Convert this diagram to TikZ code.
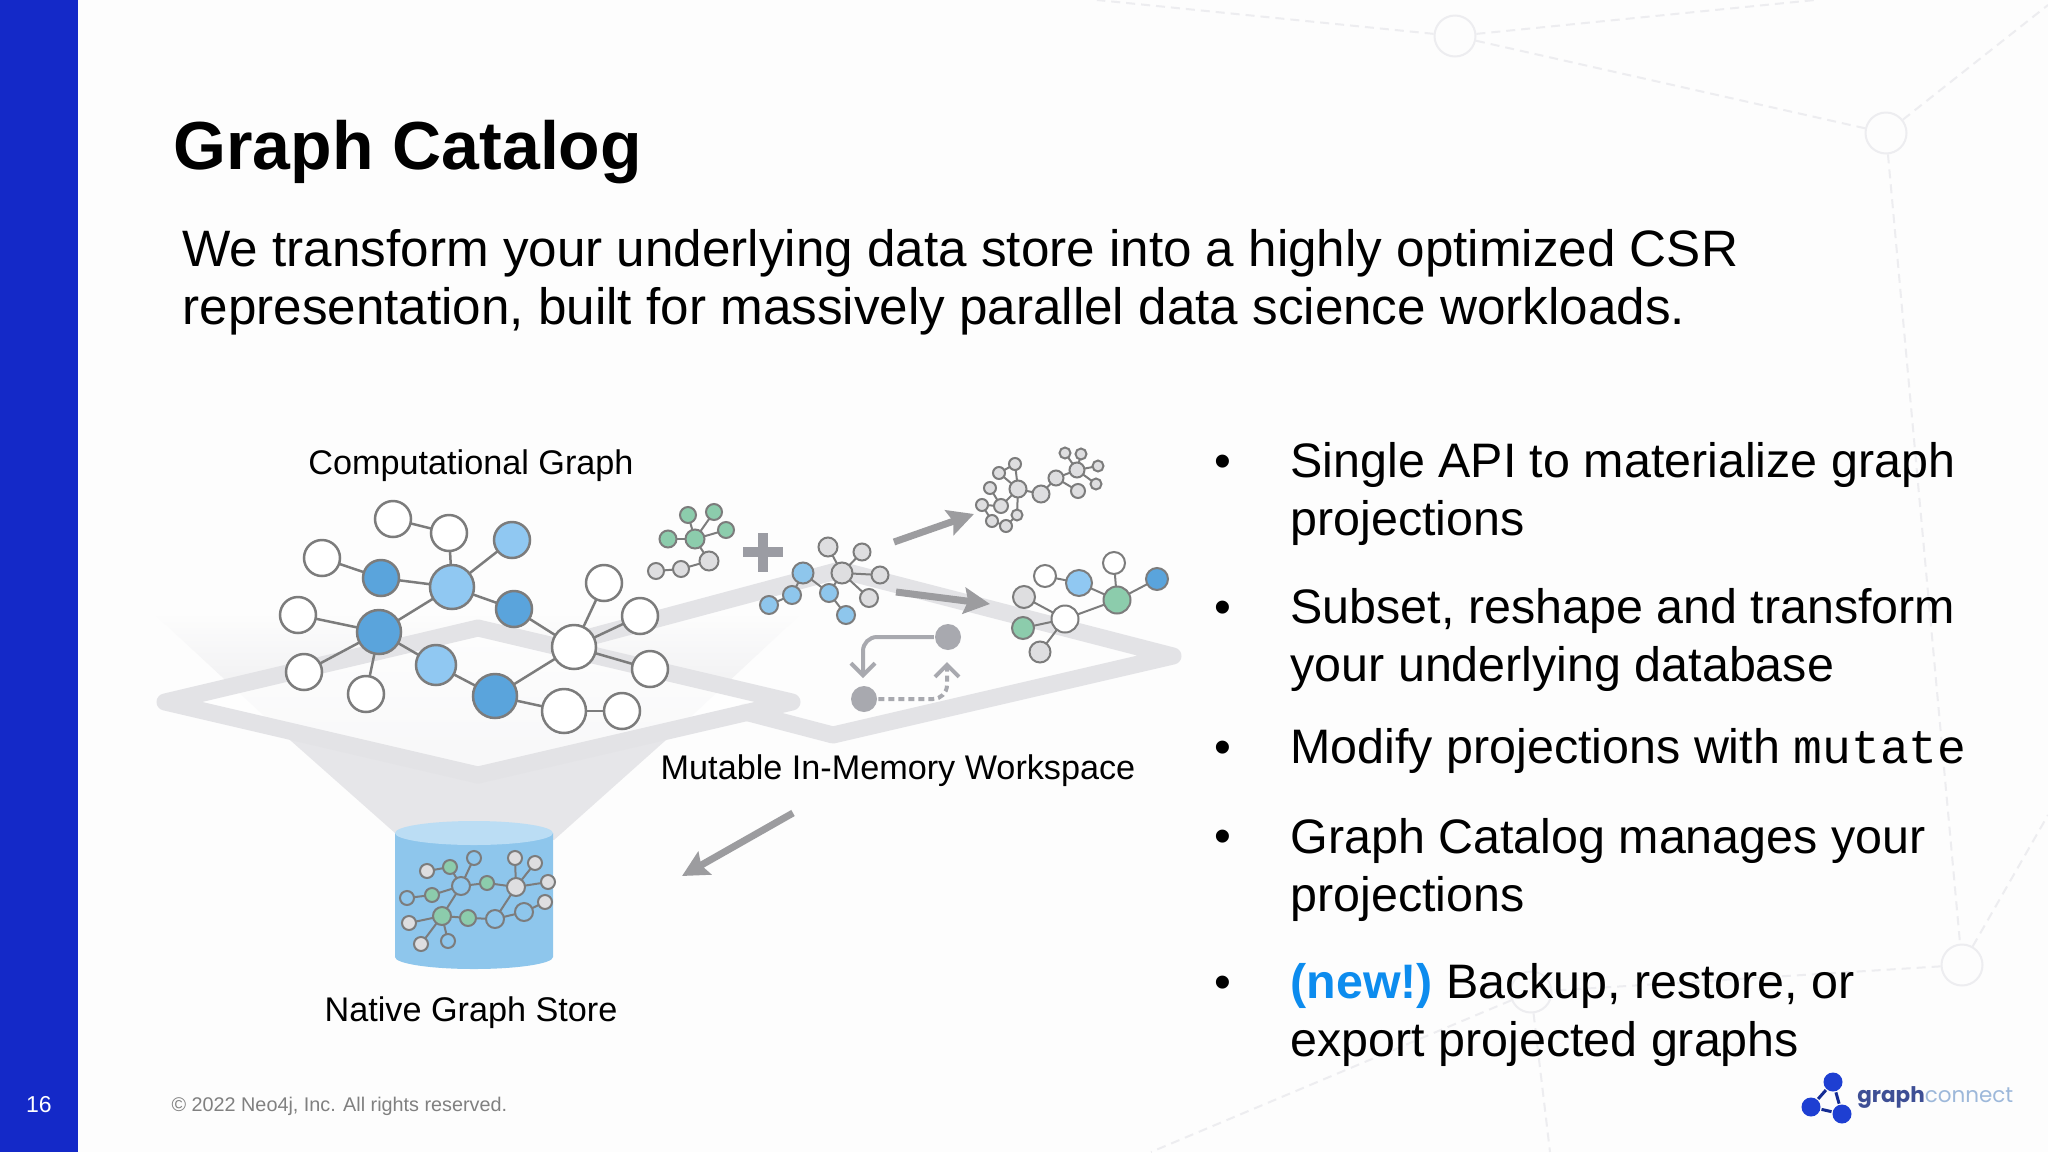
\documentclass[tikz,border=0pt]{standalone}
\usepackage{fontspec}
\setmainfont{Liberation Sans}
\newfontfamily\monofam{Liberation Mono}
\newfontfamily\logofam{Poppins}
\usetikzlibrary{arrows.meta, shapes.geometric}

\definecolor{pagewhite}{HTML}{FDFDFD}
\definecolor{barblue}{HTML}{1429C8}
\definecolor{edgegray}{HTML}{7C7C7C}
\definecolor{darkblue}{HTML}{5AA4DC}
\definecolor{lightblue}{HTML}{90C8F2}
\definecolor{miniblue}{HTML}{8EC6EC}
\definecolor{minigreen}{HTML}{8CCCAC}
\definecolor{minigray}{HTML}{DEDEE0}
\definecolor{bandgray}{HTML}{E3E3E6}
\definecolor{arrowgray}{HTML}{9C9C9F}
\definecolor{plusgray}{HTML}{9B9CA3}
\definecolor{loopgray}{HTML}{A8A9AF}
\definecolor{backline}{HTML}{EDEDF0}
\definecolor{newblue}{HTML}{0D8CEE}
\definecolor{logoblue}{HTML}{1E3FD2}

\tikzset{
    every picture/.style={line width=2.5pt},
    gnode/.style={circle, draw=edgegray, inner sep=0pt, outer sep=0pt, minimum size=#1},
    wnode/.style={gnode=#1, fill=white},
    dnode/.style={gnode=#1, fill=darkblue},
    lnode/.style={gnode=#1, fill=lightblue},
    mblue/.style={gnode=#1, fill=miniblue, line width=2pt},
    mgreen/.style={gnode=#1, fill=minigreen, line width=2pt},
    mgray/.style={gnode=#1, fill=minigray, line width=2pt},
    mwhite/.style={gnode=#1, fill=white, line width=2pt},
    glink/.style={draw=edgegray, line width=2.5pt},
    mlink/.style={draw=edgegray, line width=2pt},
    bnode/.style={circle, draw=backline, line width=2pt, inner sep=0pt, minimum size=41pt},
    blink/.style={draw=backline, line width=2pt, dash pattern=on 9pt off 6pt},
    band/.style={draw=bandgray, line width=17pt, line join=round, line cap=round},
    fatarrow/.style={draw=arrowgray, line width=#1, -{Stealth[length=26pt,width=26pt,inset=4pt]}},
    loopdot/.style={circle, fill=loopgray, inner sep=0pt, minimum size=26pt},
    looplink/.style={draw=loopgray, line width=4pt, rounded corners=14pt, -{Straight Barb[length=12pt,width=24pt]}},
    caption/.style={text=black, font=\fontsize{34.2}{40}\selectfont},
    bitem/.style={anchor=base west, align=left, font=\fontsize{48.4}{58}\selectfont},
    bmark/.style={anchor=base, font=\fontsize{48}{58}\selectfont},
}

\begin{document}
\begin{tikzpicture}[x=1pt, y=-1pt]
    \useasboundingbox (0,0) rectangle (2048,1152);
    \fill[pagewhite] (0,0) rectangle (2048,1152);

    % faint backdrop
    \node[bnode] (c1) at (1455,36) {};
    \node[bnode] (c2) at (1886,133) {};
    \node[bnode] (c3) at (1962,965) {};
    \node[bnode] (c4) at (1531,992) {};
    \coordinate (f1) at (1097,0);
    \coordinate (f2) at (1815,0);
    \coordinate (f3) at (2048,5);
    \coordinate (f4) at (2048,815);
    \coordinate (f5) at (1151,1152);
    \coordinate (f6) at (1550,1152);
    \draw[blink]
        (c1) edge (f1)
        (c1) edge (f2)
        (c1) edge (c2)
        (c2) edge (f3)
        (c2) edge (c3)
        (c3) edge (f4)
        (c3) edge (c4)
        (c4) edge (f5)
        (c4) edge (f6)
        ;

    \fill[barblue] (0,0) rectangle (78,1152);
    \node[text=white, font=\fontsize{23}{28}\selectfont] (page) at (39,1105) {16};
    \node[anchor=base west, text=gray, font=\fontsize{19.8}{25}\selectfont] (copy) at (167,1111) {© 2022 Neo4j, Inc. All rights reserved.};

    \node[anchor=base west, font=\bfseries\fontsize{68}{80}\selectfont] (title) at (169,169) {Graph Catalog};
    \node[bitem, font=\fontsize{51.2}{58}\selectfont] (lead) at (178,324) {We transform your underlying data store into a highly optimized CSR\\representation, built for massively parallel data science workloads.};

    % funnel and platforms
    \shade[top color=pagewhite, bottom color=bandgray!80!white]
        (152,612) -- (290,740) -- (666,740) -- (803,612) -- cycle;
    \fill[bandgray!90!white] (290,740) -- (395,833) -- (554,840) -- (666,740) -- cycle;
    \draw[band] (560,645) -- (840,570) -- (1173,656) -- (833,735) -- (745,712);
    \fill[white, opacity=0.75] (165,702) -- (478,628) -- (792,702) -- (478,775) -- cycle;
    \draw[band] (165,702) -- (478,628) -- (792,702) -- (478,775) -- cycle;

    % store
    \fill[miniblue] (395,833) -- (395,957) arc[start angle=180, end angle=360, x radius=79, y radius=-12] -- (553,833) -- cycle;
    \fill[miniblue!60!white] (474,833) ellipse[x radius=79, y radius=12];

    % computational graph
    \node[wnode=36pt] (n1) at (393,519) {};
    \node[wnode=36pt] (n2) at (449,533) {};
    \node[lnode=36pt] (n3) at (512,540) {};
    \node[wnode=36pt] (n4) at (322,558) {};
    \node[dnode=36pt] (n5) at (381,578) {};
    \node[lnode=44pt] (n6) at (452,587) {};
    \node[dnode=36pt] (n7) at (514,609) {};
    \node[wnode=36pt] (n8) at (604,583) {};
    \node[wnode=36pt] (n9) at (640,616) {};
    \node[wnode=36pt] (n10) at (298,615) {};
    \node[dnode=44pt] (n11) at (379,632) {};
    \node[wnode=44pt] (n12) at (574,647) {};
    \node[wnode=36pt] (n13) at (304,672) {};
    \node[wnode=36pt] (n14) at (650,669) {};
    \node[lnode=40pt] (n15) at (436,665) {};
    \node[wnode=36pt] (n16) at (366,694) {};
    \node[dnode=44pt] (n17) at (495,696) {};
    \node[wnode=44pt] (n18) at (564,711) {};
    \node[wnode=36pt] (n19) at (622,711) {};
    \draw[glink]
        (n1) edge (n2)
        (n2) edge (n6)
        (n3) edge (n6)
        (n4) edge (n5)
        (n5) edge (n6)
        (n6) edge (n7)
        (n6) edge (n11)
        (n7) edge (n12)
        (n8) edge (n12)
        (n9) edge (n12)
        (n14) edge (n12)
        (n12) edge (n17)
        (n10) edge (n11)
        (n13) edge (n11)
        (n16) edge (n11)
        (n11) edge (n15)
        (n15) edge (n17)
        (n17) edge (n18)
        (n18) edge (n19)
        ;

    % green and gray sketch
    \node[mgreen=16pt] (g1) at (688,515) {};
    \node[mgreen=16pt] (g2) at (714,512) {};
    \node[mgreen=17pt] (g3) at (668,539) {};
    \node[mgreen=19pt] (g4) at (695,539) {};
    \node[mgreen=16pt] (g5) at (726,530) {};
    \node[mgray=19pt] (a1) at (709,561) {};
    \node[mgray=16pt] (a2) at (681,569) {};
    \node[mgray=16pt] (a3) at (656,571) {};
    \draw[mlink]
        (g1) edge (g4)
        (g2) edge (g4)
        (g3) edge (g4)
        (g5) edge (g4)
        (g4) edge (a1)
        (a1) edge (a2)
        (a2) edge (a3)
        ;
    \fill[plusgray] (743,547) rectangle (783,557);
    \fill[plusgray] (758,533) rectangle (768,572);

    % blue and gray sketch
    \node[mblue=18pt] (b1) at (769,605) {};
    \node[mblue=18pt] (b2) at (792,595) {};
    \node[mblue=21pt] (b3) at (803,573) {};
    \node[mblue=18pt] (b4) at (829,593) {};
    \node[mblue=18pt] (b5) at (846,615) {};
    \node[mgray=19pt] (d1) at (828,547) {};
    \node[mgray=17pt] (d2) at (862,552) {};
    \node[mgray=21pt] (d3) at (842,573) {};
    \node[mgray=17pt] (d4) at (880,575) {};
    \node[mgray=18pt] (d5) at (869,598) {};
    \draw[mlink]
        (b1) edge (b2)
        (b2) edge (b3)
        (b3) edge (b4)
        (b4) edge (d3)
        (b5) edge (b4)
        (d1) edge (d3)
        (d2) edge (d3)
        (d4) edge (d3)
        (d5) edge (d3)
        ;

    % upper right sketch
    \node[mgray=17pt] (t1) at (1018,489) {};
    \node[mgray=12pt] (t2) at (1015,464) {};
    \node[mgray=12pt] (t3) at (999,473) {};
    \node[mgray=12pt] (t4) at (990,488) {};
    \node[mgray=14pt] (t5) at (1001,506) {};
    \node[mgray=12pt] (t6) at (982,505) {};
    \node[mgray=12pt] (t7) at (992,521) {};
    \node[mgray=12pt] (t8) at (1006,526) {};
    \node[mgray=11pt] (t9) at (1017,515) {};
    \node[mgray=17pt] (t10) at (1041,494) {};
    \node[mgray=15pt] (t11) at (1056,478) {};
    \node[mgray=15pt] (t12) at (1077,470) {};
    \node[mgray=11pt] (t13) at (1065,453) {};
    \node[mgray=11pt] (t14) at (1081,454) {};
    \node[mgray=11pt] (t15) at (1098,466) {};
    \node[mgray=11pt] (t16) at (1096,484) {};
    \node[mgray=14pt] (t17) at (1078,491) {};
    \draw[mlink]
        (t1) edge (t2)
        (t3) edge (t2)
        (t3) edge (t1)
        (t1) edge (t5)
        (t1) edge (t9)
        (t4) edge (t5)
        (t6) edge (t5)
        (t6) edge (t7)
        (t7) edge (t8)
        (t8) edge (t9)
        (t1) edge (t10)
        (t10) edge (t11)
        (t11) edge (t12)
        (t12) edge (t13)
        (t12) edge (t14)
        (t12) edge (t15)
        (t12) edge (t16)
        (t11) edge (t17)
        ;

    % lower right sketch
    \node[mwhite=22pt] (r1) at (1045,576) {};
    \node[gnode=26pt, fill=lightblue, line width=2pt] (r2) at (1079,583) {};
    \node[mwhite=22pt] (r3) at (1114,563) {};
    \node[mgreen=27pt] (r4) at (1117,600) {};
    \node[gnode=22pt, fill=darkblue, line width=2pt] (r5) at (1157,579) {};
    \node[mgray=22pt] (r6) at (1024,597) {};
    \node[mwhite=27pt] (r7) at (1065,619) {};
    \node[mgreen=22pt] (r8) at (1023,628) {};
    \node[mgray=21pt] (r9) at (1040,652) {};
    \draw[mlink]
        (r1) edge (r2)
        (r2) edge (r4)
        (r3) edge (r4)
        (r4) edge (r5)
        (r4) edge (r7)
        (r6) edge (r7)
        (r8) edge (r7)
        (r9) edge (r7)
        ;

    % store sketch
    \node[mgray=14pt] (s1) at (427,871) {};
    \node[mgreen=14pt] (s2) at (450,867) {};
    \node[mblue=14pt] (s3) at (474,858) {};
    \node[mblue=18pt] (s4) at (461,886) {};
    \node[mgreen=14pt] (s5) at (487,883) {};
    \node[mgray=18pt] (s6) at (516,887) {};
    \node[mgray=14pt] (s7) at (515,858) {};
    \node[mgray=14pt] (s8) at (535,863) {};
    \node[mgray=14pt] (s9) at (548,882) {};
    \node[mgray=14pt] (s10) at (545,902) {};
    \node[mblue=18pt] (s11) at (524,912) {};
    \node[mblue=18pt] (s12) at (495,919) {};
    \node[mgreen=16pt] (s13) at (468,918) {};
    \node[mgreen=18pt] (s14) at (442,916) {};
    \node[mgreen=14pt] (s15) at (432,895) {};
    \node[mblue=14pt] (s16) at (407,898) {};
    \node[mgray=14pt] (s17) at (409,923) {};
    \node[mgray=14pt] (s18) at (421,944) {};
    \node[mblue=14pt] (s19) at (448,941) {};
    \draw[mlink]
        (s1) edge (s2)
        (s2) edge (s4)
        (s3) edge (s4)
        (s15) edge (s4)
        (s16) edge (s15)
        (s4) edge (s14)
        (s4) edge (s5)
        (s5) edge (s6)
        (s6) edge (s7)
        (s6) edge (s8)
        (s6) edge (s9)
        (s6) edge (s12)
        (s11) edge (s12)
        (s11) edge (s10)
        (s12) edge (s13)
        (s13) edge (s14)
        (s14) edge (s17)
        (s14) edge (s18)
        (s14) edge (s19)
        ;

    % arrows
    \coordinate (u1) at (894,542);
    \coordinate (u2) at (974,514);
    \coordinate (v1) at (896,592);
    \coordinate (v2) at (990,604);
    \coordinate (w1) at (793,813);
    \coordinate (w2) at (682,876);
    \draw[fatarrow=7pt] (u1) -- (u2);
    \draw[fatarrow=7pt] (v1) -- (v2);
    \draw[fatarrow=7pt] (w1) -- (w2);

    % loop icon
    \node[loopdot] (ltop) at (948,637) {};
    \node[loopdot] (lbot) at (864,699) {};
    \coordinate (ltip) at (863,678);
    \coordinate (rtip) at (947,662);
    \draw[looplink] (ltop) -| (ltip);
    \draw[looplink, dash pattern=on 6pt off 4pt] (lbot) -| (rtip);

    % labels
    \node[caption] (cgraph) at (471,466) {Computational Graph};
    \node[caption] (workspace) at (898,771) {Mutable In-Memory Workspace};
    \node[caption] (store) at (471,1013) {Native Graph Store};

    % bullet list
    \node[bmark] (m1) at (1223,477) {•};
    \node[bmark] (m2) at (1223,623) {•};
    \node[bmark] (m3) at (1223,763) {•};
    \node[bmark] (m4) at (1223,852) {•};
    \node[bmark] (m5) at (1223,998) {•};
    \node[bitem] (i1) at (1286,535) {Single API to materialize graph\\projections};
    \node[bitem] (i2) at (1286,681) {Subset, reshape and transform\\your underlying database};
    \node[bitem] (i3) at (1286,763) {Modify projections with {\monofam\fontsize{48}{58}\selectfont mutate}};
    \node[bitem] (i4) at (1286,911) {Graph Catalog manages your\\projections};
    \node[bitem] (i5) at (1286,1056) {{\bfseries\color{newblue}(new!)}\kern-5pt{} Backup, restore, or\\export projected graphs};

    % logo
    \node[circle, fill=logoblue, inner sep=0pt, minimum size=19pt] (l1) at (1833,1082) {};
    \node[circle, fill=logoblue, inner sep=0pt, minimum size=19pt] (l2) at (1811,1107) {};
    \node[circle, fill=logoblue, inner sep=0pt, minimum size=19pt] (l3) at (1842,1114) {};
    \draw[draw=logoblue!70!black, line width=3pt]
        (l1) edge (l2)
        (l2) edge (l3)
        (l3) edge (l1)
        ;
    \node[anchor=west, inner sep=0pt, font=\logofam\fontsize{21.5}{28}\selectfont] (logo) at (1856,1097) {{\bfseries\color[HTML]{3E4F95}graph}{\color[HTML]{9DB8DA}connect}};
\end{tikzpicture}
\end{document}
